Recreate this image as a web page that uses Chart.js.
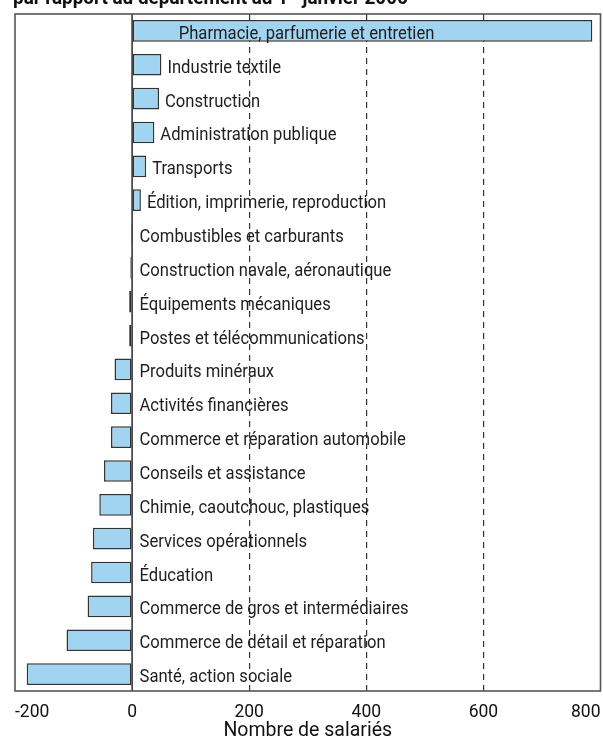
<!DOCTYPE html>
<html>
<head>
<meta charset="utf-8">
<script src="https://cdn.jsdelivr.net/npm/chart.js@4.4.1/dist/chart.umd.min.js"></script>
<style>
  html, body { margin: 0; padding: 0; background: #fff; overflow: hidden; }
  #wrap { position: relative; width: 603px; height: 742px; }
  #title { position: absolute; left: 13px; top: -14px; font: bold 21px Roboto, "Liberation Sans", sans-serif; line-height: 22px; color: #111; white-space: nowrap; z-index: 2; transform: scaleX(0.9); transform-origin: 0 0; }
  #title sup { font-size: 12px; line-height: 0; }
  canvas { position: absolute; left: 0; top: 0; }
</style>
</head>
<body>
<div id="wrap">
  <div id="title">par rapport au département au 1<sup>er</sup> janvier 2006</div>
  <canvas id="c" width="603" height="742"></canvas>
</div>
<script>
const categories = [
  "Pharmacie, parfumerie et entretien",
  "Industrie textile",
  "Construction",
  "Administration publique",
  "Transports",
  "Édition, imprimerie, reproduction",
  "Combustibles et carburants",
  "Construction navale, aéronautique",
  "Équipements mécaniques",
  "Postes et télécommunications",
  "Produits minéraux",
  "Activités financières",
  "Commerce et réparation automobile",
  "Conseils et assistance",
  "Chimie, caoutchouc, plastiques",
  "Services opérationnels",
  "Éducation",
  "Commerce de gros et intermédiaires",
  "Commerce de détail et réparation",
  "Santé, action sociale"
];
const values = [786, 50, 46, 38, 24, 15, -2, -3, -5, -5, -30, -36, -36, -48, -56, -67, -70, -76, -112, -180];
const xTicks = [-200, 0, 200, 400, 600, 800];
const xAxisTitle = "Nombre de salariés";

const FONT = 'Roboto, "Liberation Sans", sans-serif';

const decor = {
  id: 'decor',
  beforeDatasetsDraw(chart) {
    const {ctx, chartArea: a, scales: {x}} = chart;
    ctx.save();
    ctx.strokeStyle = '#2a2a2a';
    ctx.lineWidth = 1.5;
    const zx = x.getPixelForValue(0);
    ctx.beginPath(); ctx.moveTo(zx, a.top); ctx.lineTo(zx, a.bottom); ctx.stroke();
    ctx.restore();
  },
  afterDatasetsDraw(chart) {
    const {ctx, chartArea: a} = chart;
    const meta = chart.getDatasetMeta(0);
    const sx = 0.89;
    ctx.save();
    ctx.font = '18.7px ' + FONT;
    ctx.fillStyle = '#1e1e1e';
    ctx.textBaseline = 'alphabetic';
    meta.data.forEach((bar, i) => {
      const text = categories[i];
      const w = ctx.measureText(text).width * sx;
      let tx;
      if (values[i] > 0) {
        tx = bar.x + 6;
        if (tx + w > a.right - 4) tx = bar.base + 46;
      } else {
        tx = bar.base + 8;
      }
      ctx.save();
      ctx.translate(tx, bar.y + 8);
      ctx.scale(sx, 1);
      ctx.fillText(text, 0, 0);
      ctx.restore();
    });
    ctx.strokeStyle = '#555';
    ctx.lineWidth = 1.6;
    ctx.strokeRect(a.left, a.top, a.right - a.left, a.bottom - a.top);
    ctx.restore();
  }
};

new Chart(document.getElementById('c'), {
  type: 'bar',
  data: {
    labels: categories,
    datasets: [{
      data: values,
      backgroundColor: '#a0d4f1',
      borderColor: '#333',
      borderWidth: 1.5,
      borderSkipped: false,
      categoryPercentage: 1,
      barPercentage: 0.64
    }]
  },
  options: {
    indexAxis: 'y',
    responsive: false,
    animation: false,
    events: [],
    layout: { padding: { left: 15, right: 2.5, top: 14, bottom: 0.9 } },
    plugins: { legend: { display: false }, tooltip: { enabled: false } },
    scales: {
      y: { display: false },
      x: {
        min: -200, max: 800,
        afterBuildTicks(scale) { scale.ticks = xTicks.map(v => ({ value: v })); },
        grid: {
          drawTicks: false,
          color: ctx => (ctx.tick && (ctx.tick.value === 200 || ctx.tick.value === 400 || ctx.tick.value === 600)) ? '#333' : 'rgba(0,0,0,0)',
          lineWidth: 1.2
        },
        border: { display: false, dash: [6, 5] },
        ticks: {
          align: 'inner',
          padding: 2,
          color: '#111',
          font: { family: FONT, size: 17.5, lineHeight: 2.286 },
          callback: v => String(v)
        },
        title: {
          display: true,
          text: xAxisTitle,
          color: '#111',
          font: { family: FONT, size: 19.5, lineHeight: 1.2 },
          padding: { top: -15.3, bottom: -2 }
        }
      }
    }
  },
  plugins: [decor]
});
</script>
</body>
</html>
